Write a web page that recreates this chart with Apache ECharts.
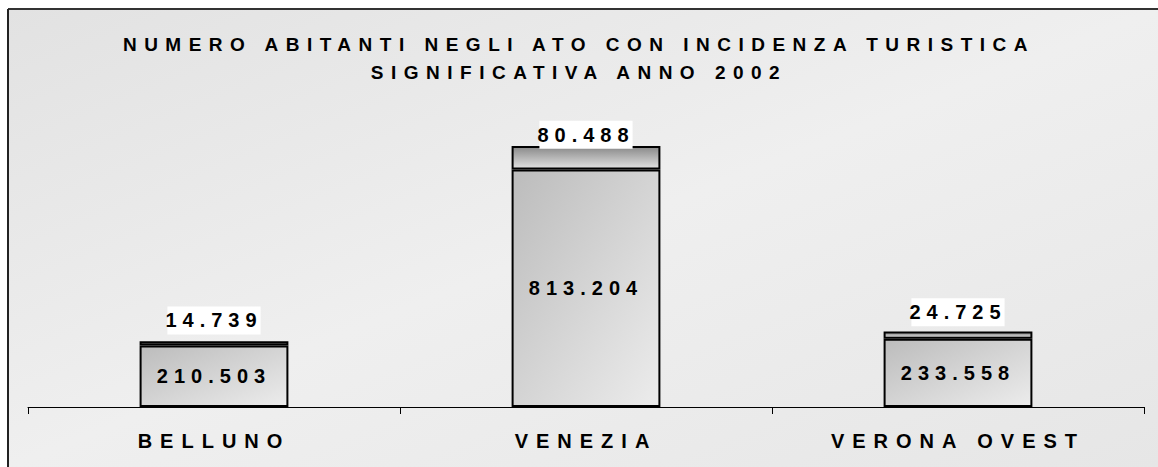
<!DOCTYPE html>
<html>
<head>
<meta charset="utf-8">
<script src="https://cdn.jsdelivr.net/npm/echarts@6/dist/echarts.min.js"></script>
<style>
html,body{margin:0;padding:0;background:#fff;}
#chart{width:1158px;height:467px;}
#chart text{letter-spacing:6px;}
#chart text[style*="Narrow"]{letter-spacing:7.5px;}
#chart text[style*="Arimo"]{letter-spacing:8px;}
</style>
</head>
<body>
<div id="chart"></div>
<script>
const titleLines = ['NUMERO ABITANTI NEGLI ATO CON INCIDENZA TURISTICA', 'SIGNIFICATIVA ANNO 2002'];
const categories = ['BELLUNO', 'VENEZIA', 'VERONA OVEST'];
const baseValues = [210503, 813204, 233558];
const topValues = [14739, 80488, 24725];

function fmt(v){ return String(v).replace(/\B(?=(\d{3})+(?!\d))/g, '.'); }

const chart = echarts.init(document.getElementById('chart'), null, {renderer:'svg'});
chart.setOption({
  animation:false,
  backgroundColor:'#ffffff',
  graphic:[
    {type:'rect', z:-10, shape:{x:8,y:9,width:1150,height:458},
     style:{fill:new echarts.graphic.LinearGradient(0,0,1,1,[{offset:0,color:'#e2e2e2'},{offset:0.5,color:'#efefef'},{offset:1,color:'#e6e6e6'}])}},
    {type:'line', z:-5, shape:{x1:8,y1:9,x2:1158,y2:9}, style:{stroke:'#333',lineWidth:2}},
    {type:'line', z:-5, shape:{x1:8,y1:9,x2:8,y2:467}, style:{stroke:'#222',lineWidth:2}}
  ],
  title:{
    text:titleLines.join('\n'),
    left:'center', top:25,
    textStyle:{fontFamily:'Liberation Sans Narrow, Liberation Sans, Arial', fontWeight:'bold', fontSize:19, color:'#000', lineHeight:28}
  },
  grid:{left:28, right:14, top:115, bottom:60},
  xAxis:{
    type:'category', data:categories,
    axisLine:{lineStyle:{color:'#000',width:1}},
    axisTick:{show:true, length:7, lineStyle:{color:'#000'}},
    axisLabel:{color:'#000', fontFamily:'Arimo, Liberation Sans, Arial', fontWeight:'bold', fontSize:20, margin:24}
  },
  yAxis:{type:'value', min:0, max:1000000, show:false, splitLine:{show:false}},
  series:[
    {type:'bar', stack:'a', data:baseValues, barWidth:'40%',
     itemStyle:{borderColor:'#000', borderWidth:2,
       color:new echarts.graphic.LinearGradient(0,0,1,1,[{offset:0,color:'#bcbcbc'},{offset:1,color:'#ececec'}])},
     label:{show:true, position:'inside', formatter:p=>fmt(p.value), color:'#000',
       fontFamily:'Liberation Sans, Arial', fontWeight:'bold', fontSize:20}},
    {type:'bar', stack:'a', data:topValues, barWidth:'40%',
     itemStyle:{borderColor:'#000', borderWidth:2,
       color:new echarts.graphic.LinearGradient(0,0,0,1,[{offset:0,color:'#8a8a8a'},{offset:1,color:'#e2e2e2'}])},
     label:{show:true, position:'inside', offset:[0,-23], formatter:p=>fmt(p.value), color:'#000',
       fontFamily:'Liberation Sans, Arial', fontWeight:'bold', fontSize:20,
       backgroundColor:'#ffffff', padding:[4,16,4,16]}}
  ]
});
</script>
</body>
</html>
